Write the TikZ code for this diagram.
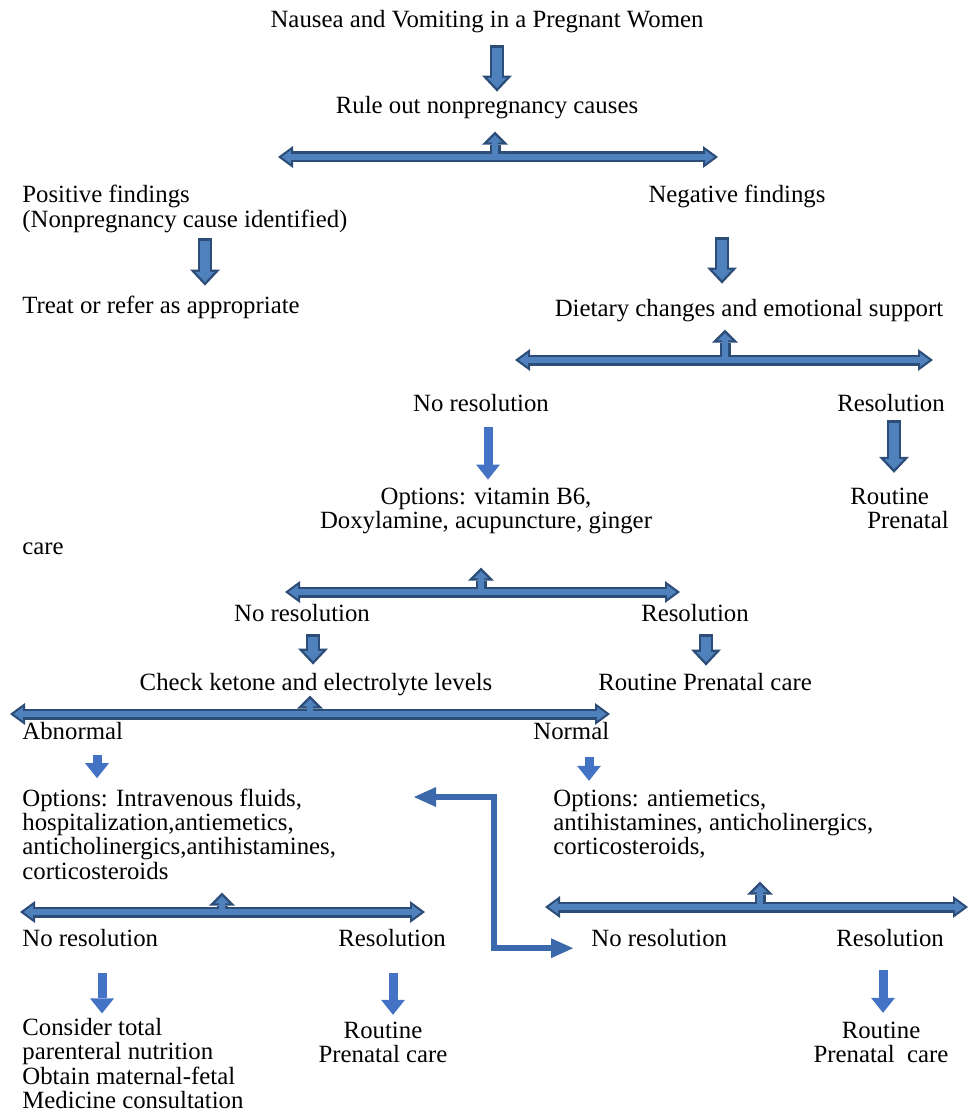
\documentclass[tikz,border=0pt]{standalone}
\usepackage{fontspec}
\setmainfont{Liberation Serif}
\usetikzlibrary{arrows.meta,calc}
\definecolor{arrowfill}{RGB}{79,129,189}
\definecolor{arrowline}{RGB}{44,77,120}
\definecolor{solidblue}{RGB}{68,114,196}
\definecolor{elbowblue}{RGB}{60,104,172}
\newcommand{\leftlines}[1]{\begin{tabular}[t]{@{}l@{}}#1\end{tabular}}
\newcommand{\midlines}[1]{\begin{tabular}[t]{@{}c@{}}#1\end{tabular}}
\tikzset{
  txt/.style={inner sep=0pt,text height=8.5pt,text depth=2.7pt},
  block/.style={inner sep=0pt},
  downarrow/.style={draw=arrowline,line width=7pt,-{Triangle[width=15pt,length=8pt,line width=0pt]},
    postaction={draw=arrowfill,line width=4.6pt,-{Triangle[width=9.5pt,length=5.05pt,line width=0pt]},shorten >=1.75pt,shorten <=1.2pt}},
  stubarrow/.style={draw=arrowline,line width=5.5pt,-{Triangle[width=13pt,length=6.5pt,line width=0pt]},
    postaction={draw=arrowfill,line width=3.1pt,-{Triangle[width=7.2pt,length=3.6pt,line width=0pt]},shorten >=1.7pt}},
  bararrow/.style={draw=arrowline,line width=5.5pt,{Triangle[width=11pt,length=7.5pt,line width=0pt]}-{Triangle[width=11pt,length=7.5pt,line width=0pt]},
    postaction={draw=arrowfill,line width=3.3pt,{Triangle[width=6.66pt,length=4.54pt,line width=0pt]}-{Triangle[width=6.66pt,length=4.54pt,line width=0pt]},shorten >=1.86pt,shorten <=1.86pt}},
  solidarrow/.style={draw=solidblue,line width=4.5pt,-{Triangle[width=12pt,length=7.5pt,line width=0pt]}},
  elbowarrow/.style={draw=elbowblue,line width=3.2pt,line join=miter,{Triangle[width=10pt,length=11pt,line width=0pt]}-{Triangle[width=10pt,length=11pt,line width=0pt]}}
}
\begin{document}
\begin{tikzpicture}[x=0.5pt,y=-0.5pt,font=\fontsize{12.4}{12}\selectfont]
\useasboundingbox (0,0) rectangle (970,1112);
% texts
\node[txt,anchor=base] (title) at (487,28) {Nausea and Vomiting in a Pregnant Women};
\node[txt,anchor=base] (rule) at (487,114) {Rule out nonpregnancy causes};
\node[block,anchor=base west] (posf) at (22,203) {\leftlines{Positive findings\\(Nonpregnancy cause identified)}};
\node[txt,anchor=base] (negf) at (737,203) {Negative findings};
\node[txt,anchor=base west] (treat) at (22,314) {Treat or refer as appropriate};
\node[txt,anchor=base] (diet) at (749,317) {Dietary changes and emotional support};
\node[txt,anchor=base] (nores1) at (481,411) {No resolution};
\node[txt,anchor=base] (res1) at (891,411) {Resolution};
\node[block,anchor=base] (opt1) at (486,504) {\midlines{Options: vitamin B6,\\Doxylamine, acupuncture, ginger}};
\node[block,anchor=base west] (rp1) at (850,504) {\leftlines{Routine\\\hspace{8.5pt}Prenatal}};
\node[txt,anchor=base west] (care) at (22,554) {care};
\node[txt,anchor=base] (nores2) at (302,621) {No resolution};
\node[txt,anchor=base] (res2) at (695,621) {Resolution};
\node[txt,anchor=base] (check) at (316,690) {Check ketone and electrolyte levels};
\node[txt,anchor=base] (rpc) at (705,690) {Routine Prenatal care};
\node[txt,anchor=base west] (abn) at (22,739) {Abnormal};
\node[txt,anchor=base west] (norm) at (533,739) {Normal};
\node[block,anchor=base west] (ivopt) at (22,806) {\leftlines{Options: Intravenous fluids,\\hospitalization,antiemetics,\\anticholinergics,antihistamines,\\corticosteroids}};
\node[block,anchor=base west] (aeopt) at (553,806) {\leftlines{Options: antiemetics,\\antihistamines, anticholinergics,\\corticosteroids,}};
\node[txt,anchor=base west] (nores3) at (22,946) {No resolution};
\node[txt,anchor=base west] (res3) at (338,946) {Resolution};
\node[txt,anchor=base west] (nores4) at (591,946) {No resolution};
\node[txt,anchor=base west] (res4) at (836,946) {Resolution};
\node[block,anchor=base west] (tpn) at (22,1035) {\leftlines{Consider total\\parenteral nutrition\\Obtain maternal-fetal\\Medicine consultation}};
\node[block,anchor=base] (rp3) at (383,1038) {\midlines{Routine\\Prenatal care}};
\node[block,anchor=base] (rp4) at (881,1038) {\midlines{Routine\\Prenatal\ \ care}};
% branching bars with stubs
\foreach \n/\l/\r/\c/\y/\h in {1/278/718/495/157/22, 2/515/933/725/360/27, 3/285/680/481/592/21,
    4/10/610/310/714/15, 5/20/425/222/912/16, 6/545/968/760/907/22}{
  \coordinate (b\n w) at (\l,\y);
  \coordinate (b\n e) at (\r,\y);
  \coordinate (b\n c) at (\c,\y);
  \draw[bararrow] (b\n w) -- (b\n e); %bar
  \draw[stubarrow] ([yshift=1.65pt]b\n c) -- ++(0,-\h); %stub
}
% block arrows down
\draw[downarrow] ([shift={(10,11.6)}]title.south) -- ([shift={(10,-5)}]rule.north);
\draw[downarrow] ([shift={(183,3)}]posf.south west) -- ([shift={(183,-11)}]treat.north west);
\draw[downarrow] ([shift={(-15,28.6)}]negf.south) -- ([shift={(-27,-16)}]diet.north);
\draw[solidarrow] ([shift={(7,10.6)}]nores1.south) -- ([shift={(2,-7.2)}]opt1.north);
\draw[downarrow] ([shift={(3,3.6)}]res1.south) -- ([shift={(44,-14)}]rp1.north west);
\draw[downarrow] ([shift={(11,7.6)}]nores2.south) -- ([shift={(-3,-8)}]check.north);
\draw[downarrow] ([shift={(11,7.6)}]res2.south) -- ([shift={(1,-7)}]rpc.north);
\draw[solidarrow] ([shift={(75,10.6)}]abn.south west) -- ([shift={(75,-10)}]ivopt.north west);
\draw[solidarrow] ([shift={(56,12.6)}]norm.south west) -- ([shift={(36,-8)}]aeopt.north west);
\draw[solidarrow] ([shift={(80,21.6)}]nores3.south west) -- ([shift={(80,-4)}]tpn.north west);
\draw[solidarrow] ([shift={(55,21.6)}]res3.south west) -- ([shift={(10,-6)}]rp3.north);
\draw[solidarrow] ([shift={(47,18.6)}]res4.south west) -- ([shift={(2,-8)}]rp4.north);
% elbow arrow
\coordinate (e1) at (414,797);
\coordinate (e2) at ([shift={(-18,8)}]nores4.west);
\draw[elbowarrow] (e1) -- ++(80,0) |- (e2);
\end{tikzpicture}
\end{document}
